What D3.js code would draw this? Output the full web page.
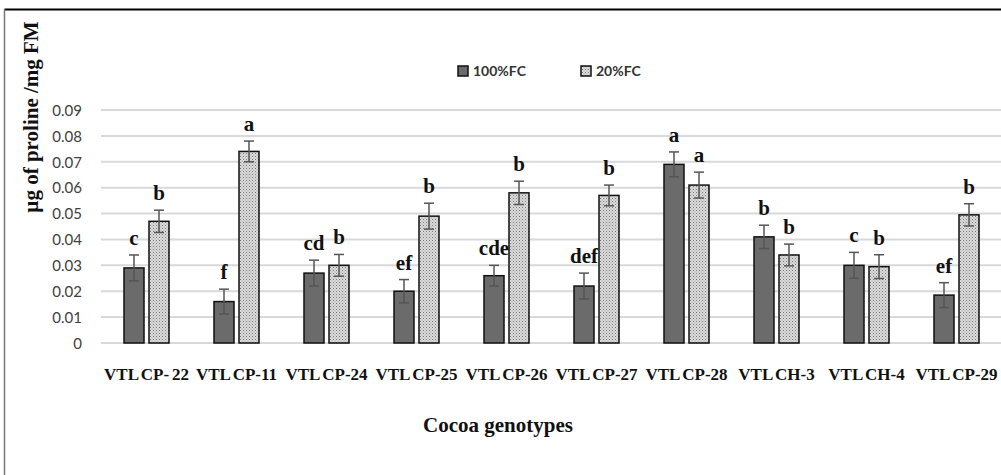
<!DOCTYPE html>
<html><head><meta charset="utf-8">
<script src="https://cdn.jsdelivr.net/npm/d3@7"></script>
<style>html,body{margin:0;padding:0;background:#fff;}svg{display:block;}</style>
</head><body>
<svg id="c" width="1001" height="475"></svg>
<script>
const categories = ["VTL CP- 22","VTL CP-11","VTL CP-24","VTL CP-25","VTL CP-26","VTL CP-27","VTL CP-28","VTL CH-3","VTL CH-4","VTL CP-29"];
const seriesNames = ["100%FC","20%FC"];
const fc100 = [0.029,0.016,0.027,0.020,0.026,0.022,0.069,0.041,0.030,0.0185];
const fc20  = [0.047,0.074,0.030,0.049,0.058,0.057,0.061,0.034,0.0295,0.0495];
const err100 = [0.005,0.0048,0.005,0.0045,0.004,0.005,0.0048,0.0045,0.005,0.0048];
const err20  = [0.0043,0.004,0.0042,0.005,0.0045,0.004,0.005,0.0042,0.0046,0.0043];
const letters100 = ["c","f","cd","ef","cde","def","a","b","c","ef"];
const letters20  = ["b","a","b","b","b","b","a","b","b","b"];
const yTicks = [0,0.01,0.02,0.03,0.04,0.05,0.06,0.07,0.08,0.09];

const svg = d3.select("#c");
const defs = svg.append("defs");
const pat = defs.append("pattern").attr("id","dots").attr("patternUnits","userSpaceOnUse").attr("width",3).attr("height",3);
pat.append("rect").attr("width",3).attr("height",3).attr("fill","#dcdcdc");
pat.append("rect").attr("x",0).attr("y",0).attr("width",1).attr("height",1).attr("fill","#777");
pat.append("rect").attr("x",1.5).attr("y",1.5).attr("width",1).attr("height",1).attr("fill","#999");

// frame
svg.append("line").attr("x1",4.5).attr("x2",1001).attr("y1",9.5).attr("y2",9.5).attr("stroke","#000").attr("stroke-width",2);
svg.append("line").attr("x1",4.5).attr("x2",4.5).attr("y1",9).attr("y2",475).attr("stroke","#777").attr("stroke-width",1.5);

const x = d3.scaleBand().domain(categories).range([101.5,1001.5]).padding(0);
const y = d3.scaleLinear().domain([0,0.09]).range([343,110]);

// gridlines
svg.append("g").selectAll("line").data(yTicks).join("line")
  .attr("x1",101).attr("x2",1001).attr("y1",d=>y(d)).attr("y2",d=>y(d))
  .attr("stroke","#d9d9d9").attr("stroke-width",2);

// y axis labels
const yAxis = d3.axisLeft(y).tickValues(yTicks).tickSize(0).tickPadding(0)
  .tickFormat(d=> d===0 ? "0" : d3.format(".2f")(d));
const ga = svg.append("g").attr("transform","translate(82,0)").call(yAxis);
ga.select(".domain").remove();
ga.selectAll("text").attr("font-family","Lato").attr("font-size",15).attr("fill","#404040").attr("dy","0.35em");

const bw = 20;
const rows = categories.map((c,i)=>({c,i,v1:fc100[i],v2:fc20[i],e1:err100[i],e2:err20[i],l1:letters100[i],l2:letters20[i]}));
const cx = d => x(d.c) + x.bandwidth()/2;

// bars
svg.append("g").selectAll("rect").data(rows).join("rect")
  .attr("x",d=>cx(d)-22.5).attr("width",bw).attr("y",d=>y(d.v1)).attr("height",d=>y(0)-y(d.v1))
  .attr("fill","#6b6b6b").attr("stroke","#111").attr("stroke-width",1.5);
svg.append("g").selectAll("rect").data(rows).join("rect")
  .attr("x",d=>cx(d)+2.5).attr("width",bw).attr("y",d=>y(d.v2)).attr("height",d=>y(0)-y(d.v2))
  .attr("fill","url(#dots)").attr("stroke","#111").attr("stroke-width",1.5);

// error bars
function errBars(off, vk, ek){
  const g = svg.append("g").attr("stroke","#555").attr("stroke-width",1.5);
  rows.forEach(d=>{
    const xc = cx(d)+off, v=d[vk], e=d[ek];
    g.append("line").attr("x1",xc).attr("x2",xc).attr("y1",y(v+e)).attr("y2",y(v-e));
    g.append("line").attr("x1",xc-5).attr("x2",xc+5).attr("y1",y(v+e)).attr("y2",y(v+e));
    g.append("line").attr("x1",xc-5).attr("x2",xc+5).attr("y1",y(v-e)).attr("y2",y(v-e));
  });
}
errBars(-12.5,"v1","e1");
errBars(12.5,"v2","e2");

// letters
svg.append("g").selectAll("text").data(rows).join("text")
  .attr("x",d=>cx(d)-12.5).attr("y",d=>y(d.v1+d.e1)-10).attr("text-anchor","middle")
  .attr("font-family","Liberation Serif").attr("font-weight","bold").attr("font-size",21).attr("fill","#111").text(d=>d.l1);
svg.append("g").selectAll("text").data(rows).join("text")
  .attr("x",d=>cx(d)+12.5).attr("y",d=>y(d.v2+d.e2)-10).attr("text-anchor","middle")
  .attr("font-family","Liberation Serif").attr("font-weight","bold").attr("font-size",21).attr("fill","#111").text(d=>d.l2);

// x labels
svg.append("g").selectAll("text").data(categories).join("text")
  .attr("x",d=>x(d)+x.bandwidth()/2).attr("y",380).attr("text-anchor","middle")
  .attr("font-family","Liberation Serif").attr("font-weight","bold").attr("font-size",17)
  .attr("word-spacing","-1.5px").attr("fill","#111").text(d=>d);

// axis titles
svg.append("text").attr("transform","translate(38,117) rotate(-90)").attr("text-anchor","middle")
  .attr("font-family","Liberation Serif").attr("font-weight","bold").attr("font-size",21).attr("fill","#111")
  .text("µg of proline /mg FM");
svg.append("text").attr("x",498).attr("y",432).attr("text-anchor","middle")
  .attr("font-family","Liberation Serif").attr("font-weight","bold").attr("font-size",21).attr("fill","#111")
  .text("Cocoa genotypes");

// legend
const leg = [{n:seriesNames[0],x:458,f:"#6b6b6b"},{n:seriesNames[1],x:581,f:"url(#dots)"}];
const lg = svg.append("g");
leg.forEach(l=>{
  lg.append("rect").attr("x",l.x).attr("y",66).attr("width",10).attr("height",10).attr("fill",l.f).attr("stroke","#111").attr("stroke-width",1.5);
  lg.append("text").attr("x",l.x+15).attr("y",76).attr("font-family","Lato").attr("font-weight","bold").attr("font-size",14).attr("fill","#333").text(l.n);
});
</script>
</body></html>
